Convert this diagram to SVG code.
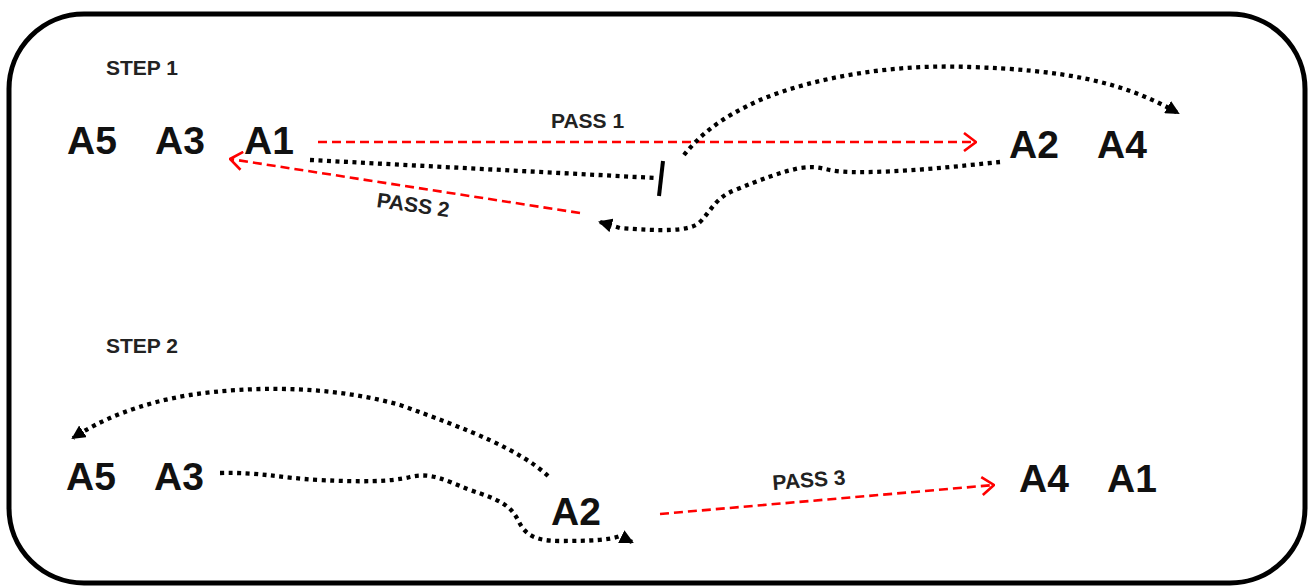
<svg xmlns="http://www.w3.org/2000/svg" width="1314" height="587" viewBox="0 0 1314 587">
<defs>
<style>
.frame{fill:#fff;stroke:#000;stroke-width:5}
.big{font-family:"Liberation Sans",Arial,sans-serif;font-weight:bold;font-size:39px;fill:#111}
.small{font-family:"Liberation Sans",Arial,sans-serif;font-weight:bold;font-size:21px;fill:#222}
.red{fill:none;stroke:#f00;stroke-width:2.6;stroke-dasharray:9 5}
.dot{fill:none;stroke:#000;stroke-width:4.3;stroke-dasharray:4 4.5}
</style>
<marker id="ro" viewBox="0 0 14 20" refX="13" refY="10" markerWidth="14" markerHeight="20" markerUnits="userSpaceOnUse" orient="auto">
<polyline points="1,1 13,10 1,19" fill="none" stroke="#f00" stroke-width="2.6"/>
</marker>
<marker id="bt" viewBox="0 0 14 14" refX="12" refY="7" markerWidth="14" markerHeight="14" markerUnits="userSpaceOnUse" orient="auto">
<path d="M0,0 L14,7 L0,14 Z" fill="#000"/>
</marker>
</defs>
<rect width="1314" height="587" fill="#fff"/>
<rect class="frame" x="9" y="14" width="1296" height="569" rx="75" ry="75"/>

<g id="step1-label"><text class="small" x="106" y="75">STEP 1</text></g>
<g id="s1-A5"><text class="big" x="67" y="154">A5</text></g>
<g id="s1-A3"><text class="big" x="155" y="154">A3</text></g>
<g id="s1-A1"><text class="big" x="244" y="154">A1</text></g>
<g id="s1-A2"><text class="big" x="1009" y="158">A2</text></g>
<g id="s1-A4"><text class="big" x="1097" y="158">A4</text></g>

<g id="step2-label"><text class="small" x="106" y="353">STEP 2</text></g>
<g id="s2-A5"><text class="big" x="66" y="490">A5</text></g>
<g id="s2-A3"><text class="big" x="154" y="490">A3</text></g>
<g id="s2-A2"><text class="big" x="551" y="525">A2</text></g>
<g id="s2-A4"><text class="big" x="1019" y="492">A4</text></g>
<g id="s2-A1"><text class="big" x="1107" y="492">A1</text></g>

<g id="connectors">
<path class="red" d="M318,142 L976,142" marker-end="url(#ro)"/>
<text class="small" x="551" y="128">PASS 1</text>
<path class="dot" d="M310,160 L656,178"/>
<line x1="663" y1="161" x2="659" y2="196" stroke="#000" stroke-width="4"/>
<path class="red" d="M580,213 L230,159" marker-end="url(#ro)"/>
<text class="small" transform="translate(376,207) rotate(8)">PASS 2</text>
<path class="dot" d="M684,155 C700,135 720,118 760,100 C820,75 900,64 970,67 C1060,70 1120,80 1178,113" marker-end="url(#bt)"/>
<path class="dot" d="M1000,162 C960,166 900,173 850,172 C820,171 825,165 800,168 C780,172 760,180 735,190 C715,198 712,210 700,222 C690,232 660,231 620,228 L600,222" marker-end="url(#bt)"/>

<path class="dot" d="M548,476 C520,450 470,430 400,405 C330,385 250,386 190,395 C140,403 100,420 73,438" marker-end="url(#bt)"/>
<path class="dot" d="M220,473 C260,472 280,478 320,480 C360,482 390,482 410,477 C430,472 445,480 470,490 C500,500 510,505 518,520 C525,535 535,541 560,541 C590,541 610,540 620,536 L632,542" marker-end="url(#bt)"/>
<path class="red" d="M660,514 L994,485" marker-end="url(#ro)"/>
<text class="small" transform="translate(773,490) rotate(-4.5)">PASS 3</text>
</g>
</svg>
